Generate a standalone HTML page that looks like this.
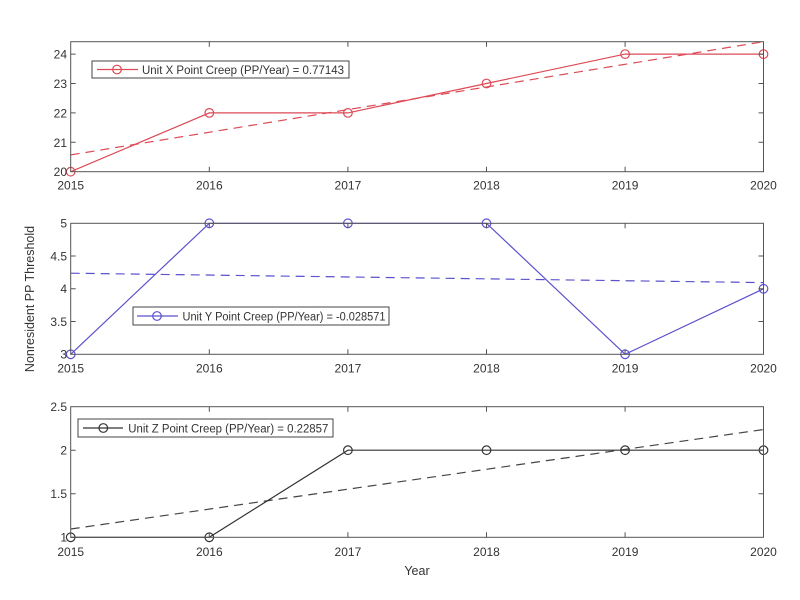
<!DOCTYPE html>
<html><head><meta charset="utf-8"><style>
html,body{margin:0;padding:0;background:#fff;}
svg{display:block;}
text{font-family:"Liberation Sans",Arial,sans-serif;fill:#333;}
</style></head><body>
<svg width="800" height="600" viewBox="0 0 800 600" xmlns="http://www.w3.org/2000/svg">
<rect width="800" height="600" fill="#fff"/>
<!-- ===== TOP PANEL ===== -->
<g fill="none" stroke-width="1.2">
  <line x1="70.7" y1="154.9" x2="763.5" y2="41.7" stroke="#dc4a55" stroke-dasharray="9,6"/>
  <polyline points="70.7,171.7 209.3,112.9 347.9,112.9 486.5,83.5 625.1,54.1 763.5,54.1" stroke="#dc4a55"/>
  <g stroke="#dc4a55"><circle cx="70.7" cy="171.7" r="4.3"/><circle cx="209.3" cy="112.9" r="4.3"/><circle cx="347.9" cy="112.9" r="4.3"/><circle cx="486.5" cy="83.5" r="4.3"/><circle cx="625.1" cy="54.1" r="4.3"/><circle cx="763.5" cy="54.1" r="4.3"/></g>
</g>
<g stroke="#555" stroke-width="1" fill="none">
  <rect x="70.7" y="41.7" width="692.8" height="130"/>
  <path d="M209.3,41.7v5M347.9,41.7v5M486.5,41.7v5M625.1,41.7v5M209.3,171.7v-5M347.9,171.7v-5M486.5,171.7v-5M625.1,171.7v-5"/>
  <path d="M70.7,54.1h5M70.7,83.5h5M70.7,112.9h5M70.7,142.3h5M763.5,54.1h-5M763.5,83.5h-5M763.5,112.9h-5M763.5,142.3h-5"/>
</g>
<g font-size="12" text-anchor="end">
  <text x="67" y="58.5">24</text><text x="67" y="88">23</text><text x="67" y="117.5">22</text><text x="67" y="147">21</text><text x="67" y="176">20</text>
</g>
<g font-size="12" text-anchor="middle">
  <text x="70.7" y="189.5">2015</text><text x="209.3" y="189.5">2016</text><text x="347.9" y="189.5">2017</text><text x="486.5" y="189.5">2018</text><text x="625.1" y="189.5">2019</text><text x="763.5" y="189.5">2020</text>
</g>
<rect x="92" y="61" width="257" height="17" fill="#fff" stroke="#444" stroke-width="1"/>
<line x1="97" y1="69.5" x2="138" y2="69.5" stroke="#dc4a55" stroke-width="1.2"/>
<circle cx="117" cy="69.5" r="4.3" fill="none" stroke="#dc4a55" stroke-width="1.2"/>
<text x="142" y="73.8" font-size="11.5" textLength="202" lengthAdjust="spacingAndGlyphs" fill="#222">Unit X Point Creep (PP/Year) = 0.77143</text>

<!-- ===== MIDDLE PANEL ===== -->
<g fill="none" stroke-width="1.2">
  <line x1="70.7" y1="273.2" x2="763.5" y2="282.6" stroke="#5b52cc" stroke-dasharray="9,6"/>
  <polyline points="70.7,354.3 209.3,223.3 347.9,223.3 486.5,223.3 625.1,354.3 763.5,288.8" stroke="#5b52cc"/>
  <g stroke="#5b52cc"><circle cx="70.7" cy="354.3" r="4.3"/><circle cx="209.3" cy="223.3" r="4.3"/><circle cx="347.9" cy="223.3" r="4.3"/><circle cx="486.5" cy="223.3" r="4.3"/><circle cx="625.1" cy="354.3" r="4.3"/><circle cx="763.5" cy="288.8" r="4.3"/></g>
</g>
<g stroke="#555" stroke-width="1" fill="none">
  <rect x="70.7" y="223.3" width="692.8" height="131"/>
  <path d="M209.3,223.3v5M347.9,223.3v5M486.5,223.3v5M625.1,223.3v5M209.3,354.3v-5M347.9,354.3v-5M486.5,354.3v-5M625.1,354.3v-5"/>
  <path d="M70.7,256h5M70.7,288.8h5M70.7,321.5h5M763.5,256h-5M763.5,288.8h-5M763.5,321.5h-5"/>
</g>
<g font-size="12" text-anchor="end">
  <text x="67" y="227.5">5</text><text x="67" y="260.5">4.5</text><text x="67" y="293">4</text><text x="67" y="326">3.5</text><text x="67" y="358.5">3</text>
</g>
<g font-size="12" text-anchor="middle">
  <text x="70.7" y="372.5">2015</text><text x="209.3" y="372.5">2016</text><text x="347.9" y="372.5">2017</text><text x="486.5" y="372.5">2018</text><text x="625.1" y="372.5">2019</text><text x="763.5" y="372.5">2020</text>
</g>
<rect x="133" y="307" width="256" height="18" fill="#fff" stroke="#444" stroke-width="1"/>
<line x1="137" y1="316" x2="178" y2="316" stroke="#5b52cc" stroke-width="1.2"/>
<circle cx="157" cy="316" r="4.3" fill="none" stroke="#5b52cc" stroke-width="1.2"/>
<text x="182.5" y="320.3" font-size="11.5" textLength="203" lengthAdjust="spacingAndGlyphs" fill="#222">Unit Y Point Creep (PP/Year) = -0.028571</text>

<!-- ===== BOTTOM PANEL ===== -->
<g fill="none" stroke-width="1.2">
  <line x1="70.7" y1="529.0" x2="763.5" y2="429.5" stroke="#444" stroke-dasharray="9,6"/>
  <polyline points="70.7,537.3 209.3,537.3 347.9,450.2 486.5,450.2 625.1,450.2 763.5,450.2" stroke="#333"/>
  <g stroke="#333"><circle cx="70.7" cy="537.3" r="4.3"/><circle cx="209.3" cy="537.3" r="4.3"/><circle cx="347.9" cy="450.2" r="4.3"/><circle cx="486.5" cy="450.2" r="4.3"/><circle cx="625.1" cy="450.2" r="4.3"/><circle cx="763.5" cy="450.2" r="4.3"/></g>
</g>
<g stroke="#555" stroke-width="1" fill="none">
  <rect x="70.7" y="406.7" width="692.8" height="130.6"/>
  <path d="M209.3,406.7v5M347.9,406.7v5M486.5,406.7v5M625.1,406.7v5M209.3,537.3v-5M347.9,537.3v-5M486.5,537.3v-5M625.1,537.3v-5"/>
  <path d="M70.7,450.2h5M70.7,493.8h5M763.5,450.2h-5M763.5,493.8h-5"/>
</g>
<g font-size="12" text-anchor="end">
  <text x="67" y="411">2.5</text><text x="67" y="454.5">2</text><text x="67" y="498">1.5</text><text x="67" y="541.5">1</text>
</g>
<g font-size="12" text-anchor="middle">
  <text x="70.7" y="556">2015</text><text x="209.3" y="556">2016</text><text x="347.9" y="556">2017</text><text x="486.5" y="556">2018</text><text x="625.1" y="556">2019</text><text x="763.5" y="556">2020</text>
</g>
<rect x="78" y="419" width="255" height="18" fill="#fff" stroke="#444" stroke-width="1"/>
<line x1="83" y1="428" x2="123" y2="428" stroke="#333" stroke-width="1.2"/>
<circle cx="103.3" cy="428" r="4.3" fill="none" stroke="#333" stroke-width="1.2"/>
<text x="128.3" y="432.3" font-size="11.5" textLength="200" lengthAdjust="spacingAndGlyphs" fill="#222">Unit Z Point Creep (PP/Year) = 0.22857</text>

<!-- axis labels -->
<text x="417" y="575" font-size="12.5" text-anchor="middle">Year</text>
<text transform="translate(34,299) rotate(-90)" font-size="12.5" text-anchor="middle">Nonresident PP Threshold</text>
</svg>
</body></html>
